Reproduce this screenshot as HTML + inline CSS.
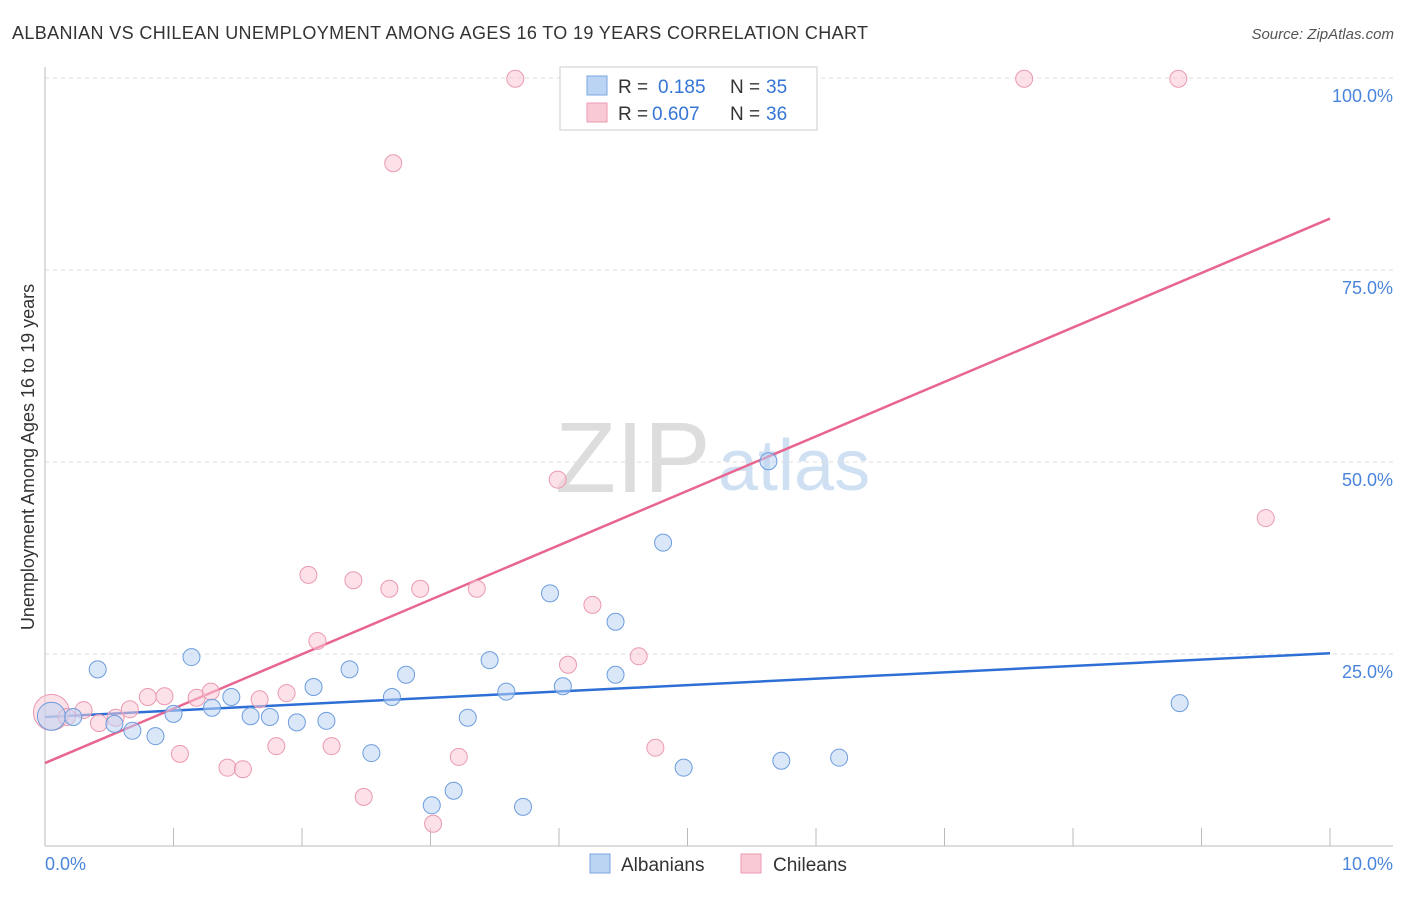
<!DOCTYPE html>
<html><head><meta charset="utf-8"><style>
body{margin:0;background:#fff;font-family:"Liberation Sans",sans-serif;}
svg text{font-family:"Liberation Sans",sans-serif;}
</style></head><body>
<svg id="chart" width="1406" height="892" viewBox="0 0 1406 892" xmlns="http://www.w3.org/2000/svg">
<text x="12" y="39" font-size="18" fill="#333" textLength="856">ALBANIAN VS CHILEAN UNEMPLOYMENT AMONG AGES 16 TO 19 YEARS CORRELATION CHART</text>
<text x="1394" y="39" font-size="15" fill="#555" text-anchor="end" font-style="italic">Source: ZipAtlas.com</text>
<g>
<text x="555" y="492" font-size="100" fill="#ddd" font-family="Liberation Serif, serif">ZIP</text>
<text x="718" y="490" font-size="72" fill="#cfe0f3">atlas</text>
</g>
<text transform="translate(34,457) rotate(-90)" font-size="18" fill="#333" text-anchor="middle">Unemployment Among Ages 16 to 19 years</text>
<g id="grid"></g><g id="axes"></g><g id="lines"></g><g id="pts"></g>
<g>
<rect x="560" y="67" width="257" height="63" fill="#fff" stroke="#ccc"/>
<rect x="587" y="76" width="20" height="19" fill="#bcd4f4" stroke="#7aa6e0"/>
<rect x="587" y="103" width="20" height="19" fill="#f9c9d6" stroke="#eb9ab0"/>
<text x="618" y="93" font-size="19" fill="#333">R = </text><text x="658" y="93" font-size="19" fill="#3575d6">0.185</text>
<text x="730" y="93" font-size="19" fill="#333">N = </text><text x="766" y="93" font-size="19" fill="#3575d6">35</text>
<text x="618" y="120" font-size="19" fill="#333">R = </text><text x="652" y="120" font-size="19" fill="#3575d6">0.607</text>
<text x="730" y="120" font-size="19" fill="#333">N = </text><text x="766" y="120" font-size="19" fill="#3575d6">36</text>
</g>
<g>
<rect x="590" y="854" width="20" height="19" fill="#bcd4f4" stroke="#7aa6e0"/>
<text x="621" y="871" font-size="19" fill="#333">Albanians</text>
<rect x="741" y="854" width="20" height="19" fill="#f9c9d6" stroke="#eb9ab0"/>
<text x="773" y="871" font-size="19" fill="#333">Chileans</text>
</g>
</svg>
<script>
const blueX=[0.05,0.22,0.41,0.54,0.68,0.86,1.00,1.14,1.30,1.45,1.60,1.75,1.96,2.09,2.19,2.37,2.54,2.70,2.81,3.01,3.18,3.29,3.46,3.59,3.72,3.93,4.03,4.44,4.44,4.81,4.97,5.63,5.73,6.18,8.83];
const blueY=[16.9,16.8,23.0,15.9,15.0,14.3,17.2,24.6,18.0,19.4,16.9,16.8,16.1,20.7,16.3,23.0,12.1,19.4,22.3,5.3,7.2,16.7,24.2,20.1,5.1,32.9,20.8,29.2,22.3,39.5,10.2,50.1,11.1,11.5,18.6];
const pinkX=[0.05,0.17,0.30,0.42,0.55,0.66,0.80,0.93,1.05,1.18,1.29,1.42,1.54,1.67,1.80,1.88,2.05,2.12,2.23,2.40,2.48,2.68,2.71,2.92,3.02,3.22,3.36,3.66,3.99,4.07,4.26,4.62,4.75,7.62,8.82,9.50];
const pinkY=[17.4,16.8,17.7,16.0,16.7,17.8,19.4,19.5,12.0,19.3,20.1,10.2,10.0,19.1,13.0,19.9,35.3,26.7,13.0,34.6,6.4,33.5,88.9,33.5,2.9,11.6,33.5,99.9,47.7,23.6,31.4,24.7,12.8,99.9,99.9,42.7];
const blueLine=[16.8,25.1];
const pinkLine=[10.8,81.7];
const yTicks=[25,50,75,100];
const yTickLabels=["25.0%","50.0%","75.0%","100.0%"];
const xTicks=[1,2,3,4,5,6,7,8,9,10];
const xEndLabels=["0.0%","10.0%"];
const NS="http://www.w3.org/2000/svg";
const sx=v=>45+v*128.5, sy=v=>846-v*7.68;
function mk(tag,attrs,parent){const e=document.createElementNS(NS,tag);for(const k in attrs)e.setAttribute(k,attrs[k]);document.getElementById(parent).appendChild(e);return e;}
yTicks.forEach((t,i)=>{
 const l=mk('line',{x1:45,x2:1393,y1:sy(t),y2:sy(t),stroke:'#ddd','stroke-dasharray':'4,4'},'grid');
 
 
 const tx=mk('text',{x:1393,y:sy(t)+24,'font-size':18,fill:'#4a85dc','text-anchor':'end'},'grid');tx.textContent=yTickLabels[i];
 
 
});
mk('line',{x1:45,x2:45,y1:67,y2:846,stroke:'#bbb'},'axes');
mk('line',{x1:45,x2:1393,y1:846,y2:846,stroke:'#bbb'},'axes');
xTicks.forEach(t=>{const l=mk('line',{x1:sx(t),x2:sx(t),y1:828,y2:846,stroke:'#bbb'},'axes');
 
 });
let a=mk('text',{x:45,y:870,'font-size':18,fill:'#4a85dc'},'axes');a.textContent=xEndLabels[0];


a=mk('text',{x:1393,y:870,'font-size':18,fill:'#4a85dc','text-anchor':'end'},'axes');a.textContent=xEndLabels[1];


function pts(X,Y,fill,stroke,big,name){X.forEach((x,i)=>{const c=mk('circle',{cx:sx(x),cy:sy(Y[i]),r:i===0?big:8.5,fill:fill,'fill-opacity':0.55,stroke:stroke,'stroke-width':1},'pts');
 
 });}
pts(pinkX,pinkY,'#f9c9d6','#eb9ab0',18,'chilean-point');
pts(blueX,blueY,'#bcd4f4','#6d9ddd',14,'albanian-point');
let bl=mk('line',{x1:sx(0),x2:sx(10),y1:sy(blueLine[0]),y2:sy(blueLine[1]),stroke:'#2e6fd6','stroke-width':2.5},'lines');


let pl=mk('line',{x1:sx(0),x2:sx(10),y1:sy(pinkLine[0]),y2:sy(pinkLine[1]),stroke:'#e8658f','stroke-width':2.5},'lines');


</script>
</body></html>
